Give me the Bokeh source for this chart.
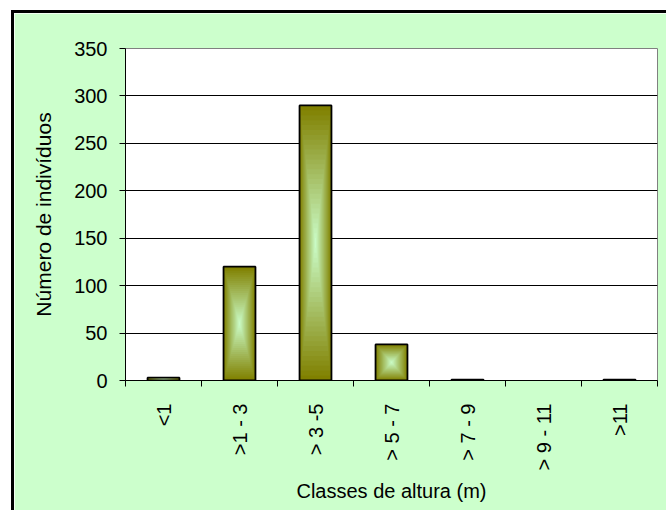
import math

from bokeh.plotting import figure
from bokeh.models import FixedTicker, Range1d
from bokeh.embed import file_html
from bokeh.resources import INLINE

# Height classes (m) and number of individuals in each
classes = ["<1", ">1 - 3", "> 3 -5", "> 5 - 7", "> 7 - 9", "> 9 - 11", ">11"]
individuos = [3, 120, 290, 38, 1, 0, 1]
y_ticks = [0, 50, 100, 150, 200, 250, 300, 350]

FONT = "Liberation Sans"
GREEN = "#CCFFCC"
EDGE_RGB = (128, 128, 0)
CENTER_RGB = (204, 255, 204)

p = figure(
    width=655, height=500,
    x_range=Range1d(0, len(classes)), y_range=Range1d(0, 350),
    output_backend="svg", toolbar_location=None,
    min_border_left=111, min_border_right=12,
    min_border_top=35, min_border_bottom=133,
)
p.margin = (10, 0, 0, 11)
p.styles = {"border-left": "3px solid black", "border-top": "3px solid black"}

p.border_fill_color = GREEN
p.background_fill_color = "white"
p.outline_line_color = "#808080"
p.outline_line_width = 1

# bars: centre-out gradient built from nested rectangles, then a black outline
centers = [i + 0.5 for i in range(len(classes))]
bars = [(c, v) for c, v in zip(centers, individuos) if v > 0]
half_w = 0.21
n_layers = 28
for k in range(n_layers):
    t = k / n_layers
    col = tuple(int(round(e + (c - e) * t)) for e, c in zip(EDGE_RGB, CENTER_RGB))
    color = "#%02x%02x%02x" % col
    p.quad(
        left=[c - half_w * (1 - t) for c, v in bars],
        right=[c + half_w * (1 - t) for c, v in bars],
        bottom=[v / 2 * t for c, v in bars],
        top=[v - v / 2 * t for c, v in bars],
        fill_color=color, line_color=None,
    )
p.quad(
    left=[c - half_w for c, v in bars],
    right=[c + half_w for c, v in bars],
    bottom=[0 for c, v in bars],
    top=[v for c, v in bars],
    fill_color=None, line_color="black", line_width=1.8,
)

# grid
p.xgrid.grid_line_color = None
p.ygrid.grid_line_color = "black"
p.ygrid.grid_line_width = 1
p.ygrid.ticker = FixedTicker(ticks=y_ticks)

# x axis: labels at class centres, tick marks at class boundaries
xa = p.xaxis[0]
xa.ticker = FixedTicker(ticks=centers, minor_ticks=list(range(len(classes) + 1)))
xa.major_label_overrides = {c: lab for c, lab in zip(centers, classes)}
xa.major_tick_out = 0
xa.major_tick_in = 0
xa.minor_tick_out = 6
xa.minor_tick_in = 0
xa.minor_tick_line_color = "black"
xa.axis_line_color = "black"
xa.major_label_orientation = math.pi / 2
xa.major_label_standoff = 17
xa.major_label_text_font = FONT
xa.major_label_text_font_size = "20px"
xa.major_label_text_color = "black"
xa.axis_label = "Classes de altura (m)"
xa.axis_label_text_font = FONT
xa.axis_label_text_font_size = "20px"
xa.axis_label_text_font_style = "normal"
xa.axis_label_text_color = "black"
xa.axis_label_standoff = 7

ya = p.yaxis[0]
ya.ticker = FixedTicker(ticks=y_ticks)
ya.major_tick_out = 6
ya.major_tick_in = 0
ya.minor_tick_line_color = None
ya.axis_line_color = "black"
ya.major_tick_line_color = "black"
ya.major_label_standoff = 12
ya.major_label_text_font = FONT
ya.major_label_text_font_size = "20px"
ya.major_label_text_color = "black"
ya.axis_label = "Número de indivíduos"
ya.axis_label_text_font = FONT
ya.axis_label_text_font_size = "21px"
ya.axis_label_text_font_style = "normal"
ya.axis_label_text_color = "black"
ya.axis_label_standoff = 16

open("out.html", "w").write(file_html(p, INLINE))
